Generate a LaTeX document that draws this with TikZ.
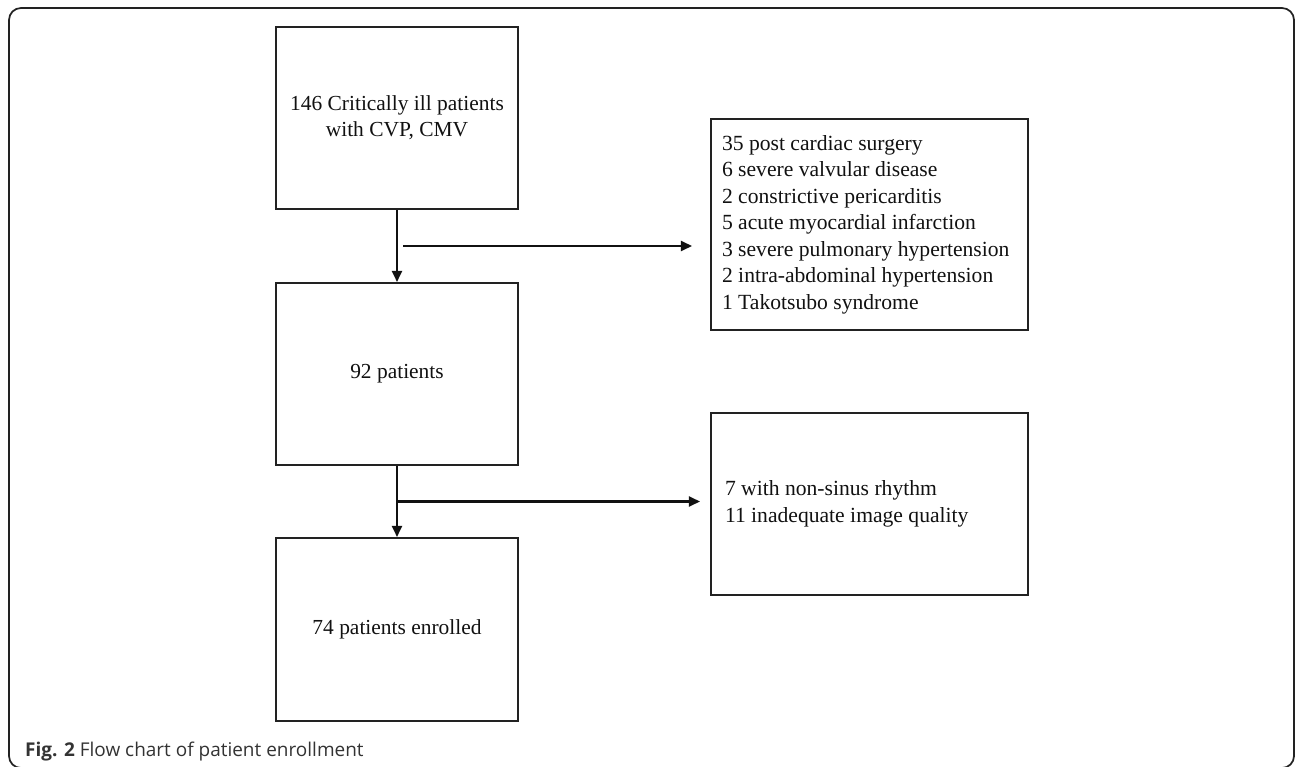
\documentclass[tikz,border=0pt]{standalone}
\usepackage{fontspec}
\setmainfont{Liberation Serif}
\newfontfamily\capfont{Open Sans}
\usepackage{xcolor}
\usepackage{tikz}
\usetikzlibrary{positioning,arrows.meta,calc}
\definecolor{ink}   {HTML}{111111}
\definecolor{rulec} {HTML}{222222}
\definecolor{capc}  {HTML}{333333}
\tikzset{
  stage/.style  = {draw=rulec, line width=1.2pt, minimum width=4.84cm,
                   minimum height=3.64cm, align=center, text=ink,
                   font=\fontsize{12.2}{15}\selectfont, inner sep=2pt},
  drop/.style   = {draw=rulec, line width=1.2pt, minimum width=6.34cm,
                   text width=5.9cm, align=flush left, text=ink,
                   font=\fontsize{12.3}{15.1}\selectfont, inner xsep=0.2cm},
  flow/.style   = {-{Triangle[length=0.22cm, width=0.2cm]}, draw=ink, line width=1.2pt},
  frame/.style  = {rounded corners=0.24cm, draw=rulec, line width=1pt},
  figcap/.style = {font=\capfont\fontsize{10.8}{13}\selectfont, text=capc, anchor=west},
}

\begin{document}
\begin{tikzpicture}[x=0.02cm, y=-0.02cm]
  \useasboundingbox (0,0) rectangle (1296,767);
  \draw[frame] (9,8) rectangle (1294,768);

  % main column
  \node[stage] (all)   at (397,118)   {146 Critically ill patients\\with CVP, CMV};
  \node[stage] (left)  at (397,374)   {92 patients};
  \node[stage, minimum height=3.66cm] (enrol) at (397,629.5) {74 patients enrolled};

  % exclusions
  \node[drop, minimum height=4.22cm] (excl1) at (869.5,224.5)
    {35 post cardiac surgery\\
     6 severe valvular disease\\
     2 constrictive pericarditis\\
     5 acute myocardial infarction\\
     3 severe pulmonary hypertension\\
     2 intra-abdominal hypertension\\
     1 Takotsubo syndrome};
  \node[drop, minimum height=3.64cm, inner xsep=0.28cm, text width=5.78cm] (excl2) at (869.5,504)
    {7 with non-sinus rhythm\\
     11 inadequate image quality};

  \coordinate (m1) at ($(all.south)!0.5!(left.north)$);
  \coordinate (m2) at ($(left.south)!0.5!(enrol.north)$);

  \draw[flow] (all) -- (left);
  \draw[flow, shorten >=0.36cm] ([xshift=0.12cm]m1) -- (m1 -| excl1.west);
  \draw[flow] (left) -- (enrol);
  \draw[flow, shorten >=0.2cm] (m2) -- (m2 -| excl2.west);

  \node[figcap] (fig) at (19,752) {\textbf{Fig. 2} Flow chart of patient enrollment};
\end{tikzpicture}
\end{document}
